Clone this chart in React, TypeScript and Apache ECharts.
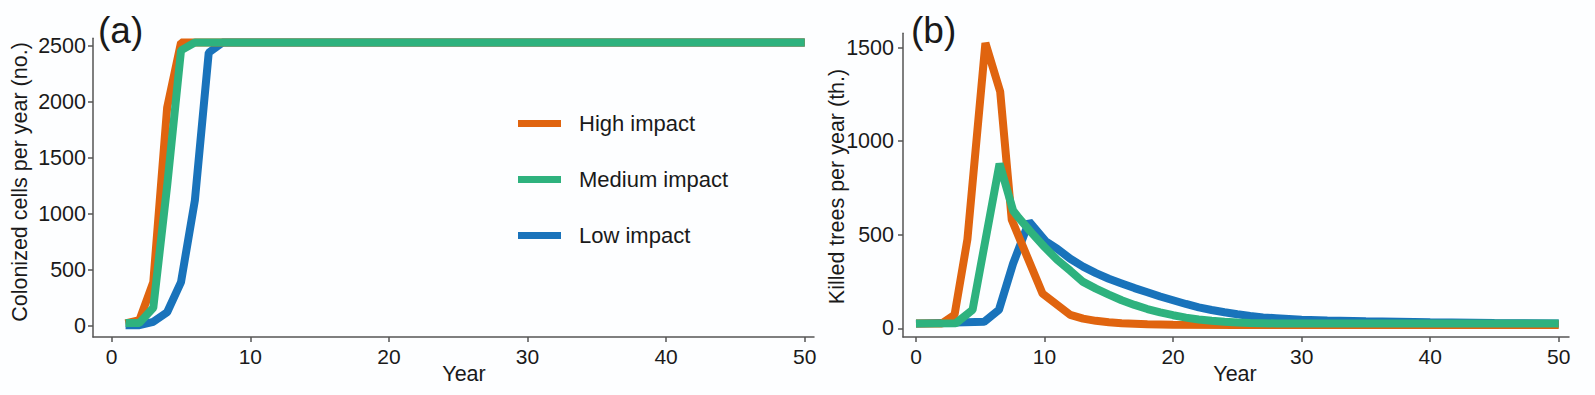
import React, { useEffect, useRef } from "react";
import * as echarts from "echarts";

// ---------- data ----------
const seriesNames = ["High impact", "Medium impact", "Low impact"];
const seriesColors = ["#E0640F", "#2EB27E", "#1973BB"];

const xTicks = [0, 10, 20, 30, 40, 50];
const yTicksA = [0, 500, 1000, 1500, 2000, 2500];
const yTicksB = [0, 500, 1000, 1500];

// (a) Colonized cells per year  [year, cells]
const highA = [[1, 20], [2, 50], [3, 390], [4, 1950], [5, 2530], [50, 2530]];
const mediumA = [[1, 25], [2, 25], [3, 160], [4, 1250], [5, 2460], [6, 2530], [50, 2530]];
const lowA = [[1, 5], [2, 5], [3, 35], [4, 120], [5, 390], [6, 1120], [7, 2440], [8, 2530], [50, 2530]];

// (b) Killed trees per year (th.)  [year, trees]
const highB = [
  [0, 25], [2, 25], [3, 72], [4, 475], [5.4, 1525], [6.55, 1265], [7.45, 580], [9.85, 185],
  [12, 72], [13, 52], [14, 40], [15, 32], [16, 27], [18, 22], [20, 19], [25, 17], [50, 17],
];
const mediumB = [
  [0, 25], [3.1, 27], [4.4, 98], [6.5, 880], [7.55, 630], [8, 590], [9, 510], [10, 435],
  [11, 365], [12, 308], [13, 248], [14, 212], [15, 180], [16, 150], [17, 125], [18, 103],
  [19, 85], [20, 70], [21, 57], [22, 47], [23, 40], [24, 35], [25, 31], [26, 28], [28, 26],
  [30, 25], [50, 25],
];
const lowB = [
  [0, 25], [5.3, 35], [6.45, 98], [7.55, 345], [8.8, 570], [10.1, 465], [11, 425], [12, 372],
  [13, 330], [14, 295], [15, 265], [16, 240], [17, 215], [18, 193], [19, 170], [20, 150],
  [21, 130], [22, 112], [23, 98], [24, 86], [25, 75], [26, 66], [27, 58], [28, 54], [29, 50],
  [30, 46], [32, 42], [35, 38], [40, 32], [45, 28], [50, 26],
];

const titleA = "Colonized cells per year (no.)";
const titleB = "Killed trees per year (th.)";
const xTitle = "Year";

const FONT = '"Liberation Sans", Arial, Helvetica, sans-serif';
const AXIS_COLOR = "#555";
const TEXT_COLOR = "#1a1a1a";
const plain = (v: number) => String(v);

function xAxisCfg(gridIndex: number, min: number, max: number) {
  return {
    type: "value",
    gridIndex,
    min,
    max,
    splitLine: { show: false },
    axisLine: { show: true, onZero: false, lineStyle: { color: AXIS_COLOR, width: 1.5 } },
    axisTick: { show: true, length: 5, customValues: xTicks, lineStyle: { color: AXIS_COLOR, width: 1.5 } },
    axisLabel: { customValues: xTicks, formatter: plain, fontSize: 21, color: TEXT_COLOR, fontFamily: FONT, margin: 9 },
  };
}

function yAxisCfg(gridIndex: number, min: number, max: number, ticks: number[], margin: number) {
  return {
    type: "value",
    gridIndex,
    min,
    max,
    splitLine: { show: false },
    axisLine: { show: true, onZero: false, lineStyle: { color: AXIS_COLOR, width: 1.5 } },
    axisTick: { show: true, length: 5, customValues: ticks, lineStyle: { color: AXIS_COLOR, width: 1.5 } },
    axisLabel: { customValues: ticks, formatter: plain, fontSize: 21.5, color: TEXT_COLOR, fontFamily: FONT, margin },
  };
}

function lineSeries(name: string, color: string, data: number[][], idx: number) {
  return {
    type: "line",
    name,
    data,
    xAxisIndex: idx,
    yAxisIndex: idx,
    showSymbol: false,
    symbol: "none",
    clip: false,
    itemStyle: { color },
    lineStyle: { color, width: 8 },
  };
}

export default function App() {
  const ref = useRef<HTMLDivElement>(null);

  useEffect(() => {
    document.body.style.margin = "0";
    const chart = echarts.init(ref.current!, null, { renderer: "svg" });
    const [cH, cM, cL] = seriesColors;
    const [nH, nM, nL] = seriesNames;
    chart.setOption({
      animation: false,
      backgroundColor: "#fdfeff",
      grid: [
        { left: 93, top: 38.3, width: 721, height: 298.7 },
        { left: 903, top: 33.3, width: 666, height: 303.7 },
      ],
      xAxis: [xAxisCfg(0, -1.35, 50.67), xAxisCfg(1, -1.01, 50.8)],
      yAxis: [yAxisCfg(0, -101, 2568, yTicksA, 7), yAxisCfg(1, -46.5, 1577, yTicksB, 9)],
      legend: {
        data: [nH, nM, nL],
        orient: "vertical",
        left: 518,
        top: 112.5,
        padding: 0,
        itemGap: 34,
        itemWidth: 43,
        itemHeight: 7,
        icon: "rect",
        textStyle: { fontSize: 22, lineHeight: 21, color: TEXT_COLOR, fontFamily: FONT, padding: [0, 0, 0, 13] },
      },
      series: [
        lineSeries(nL, cL, lowA, 0),
        lineSeries(nH, cH, highA, 0),
        lineSeries(nM, cM, mediumA, 0),
        lineSeries(nL, cL, lowB, 1),
        lineSeries(nH, cH, highB, 1),
        lineSeries(nM, cM, mediumB, 1),
      ],
      graphic: [
        { type: "text", x: 98, y: 30, style: { text: "(a)", fontSize: 37, fontFamily: FONT, fill: TEXT_COLOR, align: "left", verticalAlign: "middle" } },
        { type: "text", x: 911, y: 30, style: { text: "(b)", fontSize: 37, fontFamily: FONT, fill: TEXT_COLOR, align: "left", verticalAlign: "middle" } },
        { type: "text", x: 20, y: 182, rotation: Math.PI / 2, style: { text: titleA, fontSize: 21.5, fontFamily: FONT, fill: TEXT_COLOR, align: "center", verticalAlign: "middle" } },
        { type: "text", x: 837, y: 186.5, rotation: Math.PI / 2, style: { text: titleB, fontSize: 21.5, fontFamily: FONT, fill: TEXT_COLOR, align: "center", verticalAlign: "middle" } },
        { type: "text", x: 464, y: 374, style: { text: xTitle, fontSize: 21.5, fontFamily: FONT, fill: TEXT_COLOR, align: "center", verticalAlign: "middle" } },
        { type: "text", x: 1235, y: 374, style: { text: xTitle, fontSize: 21.5, fontFamily: FONT, fill: TEXT_COLOR, align: "center", verticalAlign: "middle" } },
      ],
    });
    return () => chart.dispose();
  }, []);

  return <div ref={ref} style={{ position: "absolute", left: 0, top: 0, width: 1595, height: 395 }} />;
}
